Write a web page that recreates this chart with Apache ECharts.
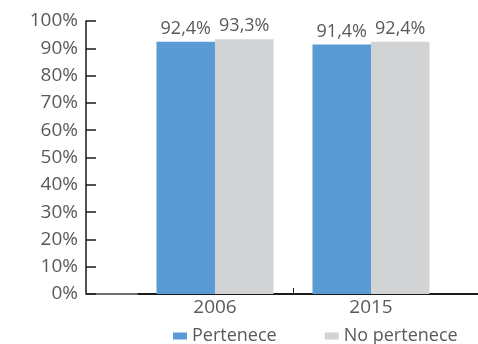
<!DOCTYPE html>
<html>
<head>
<meta charset="utf-8">
<script src="https://cdn.jsdelivr.net/npm/echarts@6/dist/echarts.min.js"></script>
<style>
  html, body { margin: 0; padding: 0; background: #fff; }
  #chart { width: 478px; height: 344px; }
</style>
</head>
<body>
<div id="chart"></div>
<script>
// Share of respondents by group, per survey year
const years = ['2006', '2015'];
const pertenece = [92.4, 91.4];
const noPertenece = [93.3, 92.4];
const seriesNames = ['Pertenece', 'No pertenece'];
const seriesColors = ['#5b9bd5', '#d2d3d5'];

const FONT = 'Open Sans';
const TEXT = '#595959';
const LINE = '#1a1a1a';

// Decimal comma, as in the Spanish original
const pct = v => v.toFixed(1).replace('.', ',') + '%';

const barLabel = {
  show: true,
  position: 'top',
  distance: 4,
  fontFamily: FONT,
  fontSize: 18,
  color: TEXT,
  formatter: p => pct(p.value)
};

const chart = echarts.init(document.getElementById('chart'), null, { renderer: 'canvas' });

chart.setOption({
  animation: false,
  backgroundColor: '#fff',
  textStyle: { fontFamily: FONT },
  grid: [
    // plotting area for the bars
    { left: 137, right: 29, top: 21, bottom: 50 },
    // baseline to the right of the first category edge
    { left: 137, right: 0, top: 21, bottom: 50 },
    // percentage scale, standing apart from the bars, plus a lighter baseline segment
    { left: 86, right: 341, top: 21, bottom: 50 }
  ],
  legend: {
    data: seriesNames,
    left: 168,
    top: 322,
    icon: 'rect',
    itemWidth: 14,
    itemHeight: 7,
    itemGap: 48,
    textStyle: { fontFamily: FONT, fontSize: 18, color: TEXT }
  },
  xAxis: [
    {
      type: 'category',
      gridIndex: 0,
      data: years,
      axisLine: { show: false },
      axisTick: { show: false },
      axisLabel: { fontFamily: FONT, fontSize: 19, color: TEXT, margin: 4 }
    },
    {
      // divider tick between the two categories
      type: 'value',
      gridIndex: 0,
      position: 'bottom',
      min: 0,
      max: years.length,
      axisLine: { show: false, onZero: false },
      axisTick: { show: true, inside: true, length: 6, customValues: [1], lineStyle: { color: LINE, width: 1 } },
      axisLabel: { show: false },
      splitLine: { show: false }
    },
    {
      type: 'value',
      gridIndex: 1,
      min: 0,
      max: 1,
      axisLine: { show: true, onZero: false, lineStyle: { color: LINE, width: 2 } },
      axisTick: { show: false },
      axisLabel: { show: false },
      splitLine: { show: false }
    },
    {
      type: 'value',
      gridIndex: 2,
      min: 0,
      max: 1,
      axisLine: { show: true, onZero: false, lineStyle: { color: '#6f6f6f', width: 2 } },
      axisTick: { show: false },
      axisLabel: { show: false },
      splitLine: { show: false }
    }
  ],
  yAxis: [
    // value scale used by the bars (drawn by the axis in grid 2)
    { type: 'value', gridIndex: 0, min: 0, max: 100, interval: 10, show: false },
    { type: 'value', gridIndex: 1, min: 0, max: 1, show: false },
    {
      type: 'value',
      gridIndex: 2,
      min: 0,
      max: 100,
      interval: 10,
      axisLine: { show: true, onZero: false, lineStyle: { color: LINE, width: 1.5 } },
      axisTick: { show: true, inside: true, length: 10, lineStyle: { color: LINE, width: 1.5 } },
      axisLabel: { fontFamily: FONT, fontSize: 19, color: TEXT, margin: 8, formatter: v => v + '%' },
      splitLine: { show: false }
    }
  ],
  series: [
    {
      name: seriesNames[0],
      type: 'bar',
      xAxisIndex: 0,
      yAxisIndex: 0,
      data: pertenece,
      itemStyle: { color: seriesColors[0] },
      barGap: '0%',
      barCategoryGap: '25%',
      label: barLabel
    },
    {
      name: seriesNames[1],
      type: 'bar',
      xAxisIndex: 0,
      yAxisIndex: 0,
      data: noPertenece,
      itemStyle: { color: seriesColors[1] },
      barGap: '0%',
      barCategoryGap: '25%',
      label: barLabel
    }
  ]
});
</script>
</body>
</html>
